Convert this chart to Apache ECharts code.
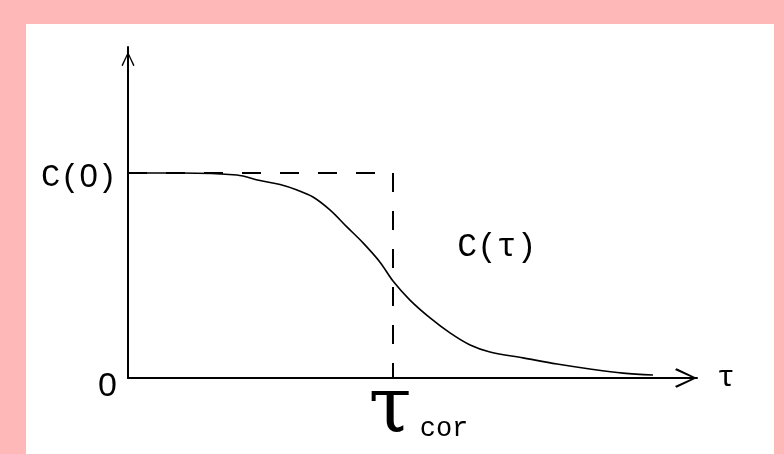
<!DOCTYPE html>
<html>
<head>
<meta charset="utf-8">
<script src="https://cdn.jsdelivr.net/npm/echarts@6/dist/echarts.min.js"></script>
<style>
  html, body { margin: 0; padding: 0; background: #FFB8B8; width: 784px; height: 454px; overflow: hidden; }
  #frame { position: absolute; left: 26px; top: 24px; width: 748px; height: 430px; background: #ffffff; }
  #chart { width: 748px; height: 430px; }
</style>
</head>
<body>
<div id="frame"><div id="chart"></div></div>
<script>
// Curve C(tau): tau in units of tau_cor, C in units of C(0)
const tauValues = [0, 0.196, 0.411, 0.498, 0.574, 0.638, 0.698, 0.762, 0.826, 0.887, 0.951, 1.0,
                   1.064, 1.140, 1.215, 1.291, 1.366, 1.491, 1.619, 1.743, 1.868, 1.981];
const cValues   = [1.0, 1.0, 0.990, 0.963, 0.944, 0.917, 0.883, 0.820, 0.737, 0.659, 0.565, 0.473,
                   0.380, 0.293, 0.220, 0.161, 0.127, 0.098, 0.068, 0.044, 0.024, 0.015];
// Axis extents
const xMax = 2.1472;
const yMax = 1.6146;
// Tick labels
const yTickValues = [0, 1];
const yTickLabels = ['0', 'C(0)'];
const xTickValues = [1];
const xTickLabels = ['τ|cor'];
const xAxisName = 'τ';
const curveLabel = 'C(τ)';
const curveLabelAt = [1.392, 0.640];
const tauCor = 1;
const c0 = 1;

const chevron = 'path://M10,0 L20,21 L18.2,22.6 L10,4.2 L1.8,22.6 L0,21 Z';
const mono = 'Liberation Mono';
const sans = 'Liberation Sans';

function richZero(s, key) {
  if (s === '0') return '{z|0}';
  // letters in mono, the digit zero in a plain (unslashed) face
  return s.split('0').map(p => p ? '{' + key + '|' + p + '}' : '').join('{d|0}');
}

const chart = echarts.init(document.getElementById('chart'), null, { renderer: 'canvas' });
chart.setOption({
  animation: false,
  backgroundColor: '#ffffff',
  grid: { left: 102, right: 77, top: 23, bottom: 76, containLabel: false },
  xAxis: {
    type: 'value', min: 0, max: xMax,
    splitLine: { show: false },
    axisTick: { show: false },
    axisLine: { show: true, onZero: false, lineStyle: { color: '#000', width: 2 },
      symbol: ['none', chevron], symbolSize: [20, 22], symbolOffset: [0, -11] },
    name: xAxisName, nameLocation: 'end', nameGap: 20,
    nameTextStyle: { fontFamily: mono, fontSize: 30, color: '#000', verticalAlign: 'middle', padding: [0, 0, 12, 0] },
    axisLabel: {
      show: true, customValues: xTickValues, margin: 13, padding: [0, 0, 0, 64],
      formatter: function (v) {
        const i = xTickValues.indexOf(v);
        const parts = xTickLabels[i].split('|');
        return '{big|' + parts[0] + '}{sub|' + parts[1] + '}';
      },
      rich: {
        big: { fontFamily: 'DejaVu Serif', fontSize: 78, color: '#000', width: 38, align: 'center', verticalAlign: 'bottom', lineHeight: 60 },
        sub: { fontFamily: mono, fontSize: 27, color: '#000', width: 70, align: 'center', verticalAlign: 'bottom', lineHeight: 42, padding: [0, 0, 9, 0] }
      }
    }
  },
  yAxis: {
    type: 'value', min: 0, max: yMax,
    splitLine: { show: false },
    axisTick: { show: false },
    axisLine: { show: true, onZero: false, lineStyle: { color: '#000', width: 2 },
      symbol: ['none', chevron], symbolSize: [13, 24], symbolOffset: [0, -12] },
    axisLabel: {
      show: true, customValues: yTickValues, margin: 11, padding: [9, 0, 0, 0],
      formatter: function (v) {
        const i = yTickValues.indexOf(v);
        return richZero(yTickLabels[i], 'c');
      },
      rich: {
        c: { fontFamily: mono, fontSize: 32, color: '#000', lineHeight: 40 },
        d: { fontFamily: sans, fontSize: 33, color: '#000', lineHeight: 40 },
        z: { fontFamily: sans, fontSize: 34, color: '#000', lineHeight: 40, padding: [8, 0, 0, 0] }
      }
    }
  },
  series: [{
    type: 'line',
    data: tauValues.map((t, i) => [t, cValues[i]]),
    smooth: 0.35,
    symbol: 'none',
    lineStyle: { color: '#000', width: 1.6 },
    markLine: {
      silent: true, symbol: ['none', 'none'], label: { show: false },
      lineStyle: { color: '#000', width: 2, type: [19, 19] },
      data: [
        [{ coord: [0, c0] }, { coord: [tauCor, c0] }],
        [{ coord: [tauCor, c0] }, { coord: [tauCor, 0] }]
      ]
    },
    markPoint: {
      silent: true, symbol: 'circle', symbolSize: 0,
      label: { show: true, position: 'inside', formatter: curveLabel, fontFamily: mono, fontSize: 33, color: '#000' },
      data: [{ coord: curveLabelAt }]
    }
  }]
});
</script>
</body>
</html>
